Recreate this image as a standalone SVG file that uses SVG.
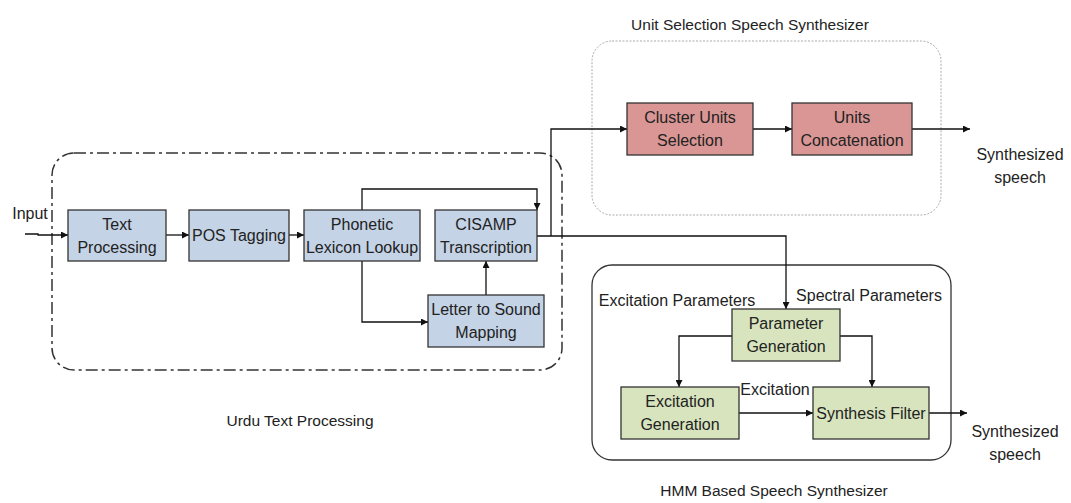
<svg xmlns="http://www.w3.org/2000/svg" width="1071" height="503" viewBox="0 0 1071 503">
<style>
text{font-family:"Liberation Sans",Arial,sans-serif;font-size:16px;fill:#222;text-anchor:middle}
.lbl{font-size:15.5px}
.blue{fill:#c4d3e5;stroke:#333;stroke-width:1.3}
.red{fill:#d99694;stroke:#333;stroke-width:1.3}
.green{fill:#d7e4bd;stroke:#333;stroke-width:1.3}
.c{fill:none;stroke:#111;stroke-width:1.3}
</style>
<defs>
<marker id="ah" viewBox="0 0 10 10" refX="10" refY="5" markerWidth="7" markerHeight="7" orient="auto" markerUnits="userSpaceOnUse"><path d="M0,0 L10,5 L0,10 z" fill="#111"/></marker>
</defs>
<rect width="1071" height="503" fill="#fff"/>
<g id="containers">
<rect x="52" y="153" width="510" height="217" rx="22" fill="none" stroke="#333" stroke-width="1.5" stroke-dasharray="12,4,3,4"/>
<rect x="592" y="41" width="349" height="174" rx="20" fill="none" stroke="#aaa" stroke-width="1" stroke-dasharray="2,1.5"/>
<rect x="592" y="265" width="359" height="195" rx="20" fill="none" stroke="#333" stroke-width="1.3"/>
<text class="lbl" x="750" y="30">Unit Selection Speech Synthesizer</text>
<text class="lbl" x="300" y="426">Urdu Text Processing</text>
<text class="lbl" x="774" y="496">HMM Based Speech Synthesizer</text>
</g>
<g id="connectors">
<path class="c" d="M25,234 L38,234 L38,235 L68,235" marker-end="url(#ah)"/>
<path class="c" d="M166,235 L189,235" marker-end="url(#ah)"/>
<path class="c" d="M289,235 L304,235" marker-end="url(#ah)"/>
<path class="c" d="M362,210 L362,189 L537,189 L537,210" marker-end="url(#ah)"/>
<path class="c" d="M362,261 L362,322 L428,322" marker-end="url(#ah)"/>
<path class="c" d="M486,295 L486,261" marker-end="url(#ah)"/>
<path class="c" d="M537,236 L786,236 L786,309" marker-end="url(#ah)"/>
<path class="c" d="M551,236 L551,129 L627,129" marker-end="url(#ah)"/>
<path class="c" d="M753,129 L792,129" marker-end="url(#ah)"/>
<path class="c" d="M912,129 L970,129" marker-end="url(#ah)"/>
<path class="c" d="M732,336 L679,336 L679,387" marker-end="url(#ah)"/>
<path class="c" d="M840,336 L872,336 L872,387" marker-end="url(#ah)"/>
<path class="c" d="M739,413 L813,413" marker-end="url(#ah)"/>
<path class="c" d="M929,413 L967,413" marker-end="url(#ah)"/>
</g>
<g id="n-input"><text x="30" y="219">Input</text></g>
<g id="n-text"><rect class="blue" x="68" y="210" width="98" height="51"/><text x="117" y="230">Text</text><text x="117" y="253">Processing</text></g>
<g id="n-pos"><rect class="blue" x="189" y="210" width="100" height="51"/><text x="239" y="241">POS Tagging</text></g>
<g id="n-phon"><rect class="blue" x="304" y="210" width="116" height="51"/><text x="362" y="230">Phonetic</text><text x="362" y="253">Lexicon Lookup</text></g>
<g id="n-cisamp"><rect class="blue" x="435" y="210" width="102" height="51"/><text x="486" y="230">CISAMP</text><text x="486" y="253">Transcription</text></g>
<g id="n-lts"><rect class="blue" x="428" y="295" width="116" height="52"/><text x="486" y="315">Letter to Sound</text><text x="486" y="338">Mapping</text></g>
<g id="n-cluster"><rect class="red" x="627" y="103" width="126" height="52"/><text x="690" y="123">Cluster Units</text><text x="690" y="146">Selection</text></g>
<g id="n-concat"><rect class="red" x="792" y="103" width="120" height="52"/><text x="852" y="123">Units</text><text x="852" y="146">Concatenation</text></g>
<g id="n-out1"><text x="1020" y="160">Synthesized</text><text x="1020" y="183">speech</text></g>
<g id="n-param"><rect class="green" x="732" y="309" width="108" height="52"/><text x="786" y="329">Parameter</text><text x="786" y="352">Generation</text></g>
<g id="n-excgen"><rect class="green" x="621" y="387" width="118" height="52"/><text x="680" y="407">Excitation</text><text x="680" y="430">Generation</text></g>
<g id="n-synth"><rect class="green" x="813" y="387" width="116" height="52"/><text x="871" y="419">Synthesis Filter</text></g>
<g id="n-out2"><text x="1015" y="437">Synthesized</text><text x="1015" y="460">speech</text></g>
<g id="labels">
<text x="677" y="306">Excitation Parameters</text>
<text x="869" y="301">Spectral Parameters</text>
<text x="775" y="395">Excitation</text>
</g>
</svg>
